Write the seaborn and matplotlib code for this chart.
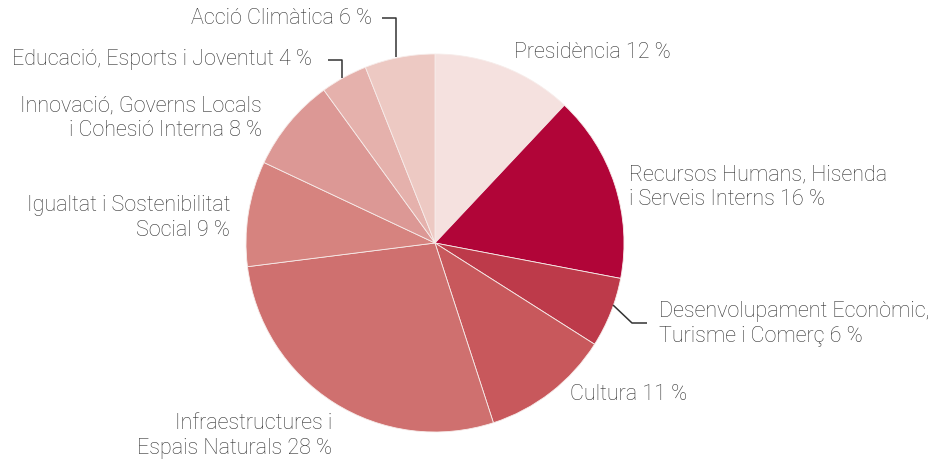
import matplotlib
matplotlib.use("Agg")
import matplotlib.pyplot as plt
import seaborn as sns

sns.set_theme(style="white")
plt.rcParams["font.family"] = ["Roboto", "DejaVu Sans"]

areas = ["Presidència", "Recursos Humans, Hisenda\ni Serveis Interns",
         "Desenvolupament Econòmic,\nTurisme i Comerç", "Cultura",
         "Infraestructures i\nEspais Naturals", "Igualtat i Sostenibilitat\nSocial",
         "Innovació, Governs Locals\ni Cohesió Interna",
         "Educació, Esports i Joventut", "Acció Climàtica"]
shares = [12, 16, 6, 11, 28, 9, 8, 4, 6]
colors = ["#f5e1df", "#b10538", "#bd3a4a", "#c8585c", "#cf706f",
          "#d6837f", "#dc9895", "#e5b1ac", "#edc9c3"]

W, H = 929, 462
fig = plt.figure(figsize=(W / 100, H / 100), dpi=100)
ax = fig.add_axes([0, 0, 1, 1])

ax.pie(shares, colors=colors, startangle=90, counterclock=False,
       center=(435, H - 243), radius=189, frame=True,
       wedgeprops=dict(edgecolor="#f7ecea", linewidth=0.6))

ax.set_xlim(0, W)
ax.set_ylim(0, H)
ax.set_aspect("equal")
ax.axis("off")

# label placement in pixels from top-left: (x, y, ha)
pos = [(514, 52, "left"), (629, 187, "left"), (659, 324, "left"),
       (570, 395, "left"), (332, 436, "right"), (230, 218, "right"),
       (262, 118, "right"), (312, 60, "right"), (372, 18, "right")]

txt = dict(fontsize=15.5, color="#333333", fontweight="light",
           linespacing=1.2, va="center")
for name, s, (x, y, ha) in zip(areas, shares, pos):
    ax.text(x, H - y, f"{name} {s} %", ha=ha, multialignment=ha, **txt)

line = dict(color="#333333", lw=1.1, solid_capstyle="butt")
ax.plot([382, 396, 396], [H - 18, H - 18, H - 57], **line)
ax.plot([328, 342, 342], [H - 60, H - 60, H - 78], **line)
ax.plot([613, 632, 647], [H - 305, H - 323, H - 323], **line)

fig.savefig("out.png", dpi=100, facecolor="white")
